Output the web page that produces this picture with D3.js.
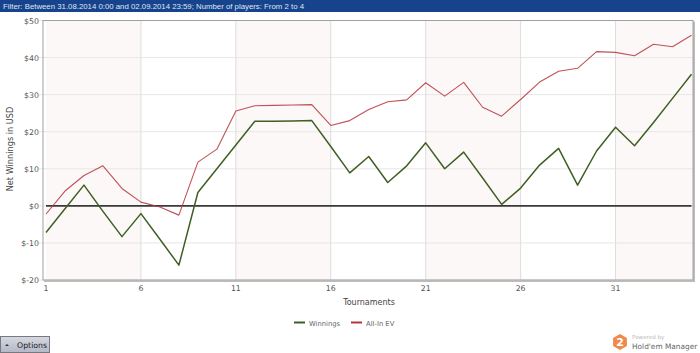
<!DOCTYPE html>
<html><head><meta charset="utf-8">
<script src="https://cdn.jsdelivr.net/npm/d3@7"></script>
<style>
html,body{margin:0;padding:0;background:#fff;overflow:hidden}
svg{display:block}
text{font-family:"DejaVu Sans",sans-serif}
</style></head><body><svg id="c" width="700" height="353"></svg>
<script>
const filterText = "Filter: Between 31.08.2014 0:00 and 02.09.2014 23:59; Number of players: From 2 to 4";
const tournaments = d3.range(1, 36);
const winnings = [-7.2,-0.8,5.6,-1.5,-8.3,-2.1,-9,-16,3.6,10,16.4,22.8,22.8,22.9,23,16,8.9,13.3,6.3,10.8,17,10,14.5,7.5,0.4,4.8,11,15.5,5.6,14.8,21.2,16.2,22.5,29,35.5];
const allInEV = [-2.2,4,8.2,10.8,4.7,1,-0.3,-2.5,11.8,15.3,25.6,27,27.1,27.2,27.3,21.7,23,26,28.1,28.6,33.2,29.6,33.3,26.6,24.2,28.7,33.4,36.3,37.1,41.6,41.4,40.5,43.6,42.9,46];
const xTicks = [1,6,11,16,21,26,31];
const yTicks = [50,40,30,20,10,0,-10,-20];
const bands = [[1,6],[11,16],[21,26],[31,35]];
const seriesNames = ["Winnings","All-In EV"];
const seriesColors = ["#3f5f22","#b5343c"];

const svg = d3.select("#c");
const x = d3.scaleLinear().domain([1,35]).range([46,691.5]);
const y = d3.scaleLinear().domain([-20,50]).range([280,20.5]);
const L=43, R=693, T=20.5, B=280;

svg.append("rect").attr("width",700).attr("height",12).attr("fill","#16438c");
svg.append("text").attr("x",3).attr("y",9).attr("font-size",8).attr("fill","#dfe7f3")
  .style("font-family","'Liberation Sans',sans-serif").attr("textLength",301).attr("lengthAdjust","spacingAndGlyphs").text(filterText);

// plot shadow + background
svg.append("rect").attr("x",L+1).attr("y",T+1).attr("width",R-L+1).attr("height",B-T+1).attr("fill","#bdbdbd");
svg.append("rect").attr("x",L).attr("y",T).attr("width",R-L).attr("height",B-T).attr("fill","#fff");
svg.selectAll("rect.band").data(bands).join("rect").attr("class","band")
  .attr("x",d=>x(d[0])).attr("y",T).attr("width",d=>Math.min(x(d[1]),R)-x(d[0])+(d[1]===35?1.5:0)).attr("height",B-T).attr("fill","#fcf8f8");

// grid
svg.selectAll("line.gy").data(yTicks).join("line").attr("class","gy")
  .attr("x1",L-4).attr("x2",R).attr("y1",d=>y(d)).attr("y2",d=>y(d)).attr("stroke","#e8e6e6").attr("stroke-width",1);
svg.selectAll("line.gx").data(xTicks.slice(1)).join("line").attr("class","gx")
  .attr("x1",d=>x(d)).attr("x2",d=>x(d)).attr("y1",T).attr("y2",B).attr("stroke","#dedcdc").attr("stroke-width",1);

// frame
svg.append("rect").attr("x",L).attr("y",T).attr("width",R-L).attr("height",B-T).attr("fill","none").attr("stroke","#a0a0a0").attr("stroke-width",1);

// zero line
svg.append("line").attr("x1",x(1)).attr("x2",R-1.5).attr("y1",y(0)).attr("y2",y(0)).attr("stroke","#3a3a3a").attr("stroke-width",1.6);

// series
const line = d3.line().x((d,i)=>x(tournaments[i])).y(d=>y(d));
svg.append("path").attr("d",line(allInEV)).attr("fill","none").attr("stroke",seriesColors[1]).attr("stroke-width",1.1).attr("stroke-opacity",.85).attr("stroke-linejoin","round");
svg.append("path").attr("d",line(winnings)).attr("fill","none").attr("stroke",seriesColors[0]).attr("stroke-width",1.5).attr("stroke-linejoin","round");

// tick labels
svg.selectAll("text.yl").data(yTicks).join("text").attr("class","yl")
  .attr("x",39).attr("y",d=>y(d)+3).attr("text-anchor","end").attr("font-size",7.8).attr("fill","#555")
  .text(d=>"$"+d);
svg.selectAll("text.xl").data(xTicks).join("text").attr("class","xl")
  .attr("x",d=>x(d)).attr("y",290.5).attr("text-anchor","middle").attr("font-size",7.8).attr("fill","#555").text(d=>d);

svg.append("text").attr("x",369).attr("y",305).attr("text-anchor","middle").attr("font-size",8).attr("fill","#444").text("Tournaments");
svg.append("text").attr("transform","translate(12.5,149) rotate(-90)").attr("text-anchor","middle").attr("font-size",8.2).attr("fill","#444").text("Net Winnings in USD");

// legend
const lx=[294,351];
seriesNames.forEach((n,i)=>{
  svg.append("line").attr("x1",lx[i]).attr("x2",lx[i]+11).attr("y1",322.5).attr("y2",322.5).attr("stroke",seriesColors[i]).attr("stroke-width",2);
  svg.append("text").attr("x",lx[i]+15).attr("y",326).attr("font-size",6.8).attr("fill","#666").text(n);
});

// options button
const btn = svg.append("defs").append("linearGradient").attr("id","btn").attr("x1",0).attr("x2",0).attr("y1",0).attr("y2",1);
btn.append("stop").attr("offset",0).attr("stop-color","#d6d9e2");
btn.append("stop").attr("offset",1).attr("stop-color","#b4b8c6");
svg.append("rect").attr("x",0.5).attr("y",336.5).attr("width",49).attr("height",16).attr("fill","url(#btn)").attr("stroke","#77797f");
svg.append("path").attr("d",d3.line()([[5,346],[9,346],[7,344]])).attr("fill","#333");
svg.append("text").attr("x",17).attr("y",348).attr("font-size",7.8).attr("fill","#222").text("Options");

// logo
const hex = d3.range(6).map(i=>{const a=Math.PI/3*i-Math.PI/2;return [620+8*Math.cos(a),342+8*Math.sin(a)];});
svg.append("path").attr("d",d3.line()(hex)+"Z").attr("fill","#f08a4b");
svg.append("text").attr("x",620).attr("y",346).attr("text-anchor","middle").attr("font-size",11).attr("font-weight","bold").attr("fill","#fff").text("2");
svg.append("text").attr("x",632).attr("y",339).attr("font-size",5.6).attr("fill","#bbb").text("Powered by");
svg.append("text").attr("x",632).attr("y",348.5).attr("font-size",7.4).attr("fill","#666").text("Hold'em Manager");
</script></body></html>
